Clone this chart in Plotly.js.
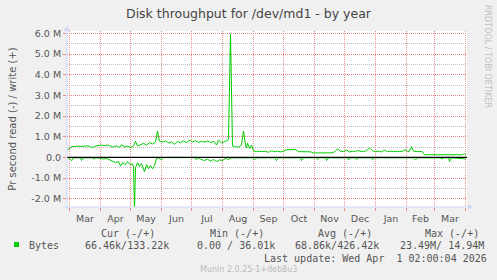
<!DOCTYPE html>
<html><head><meta charset="utf-8">
<script src="https://cdn.plot.ly/plotly-3.0.1.min.js"></script>
<style>html,body{margin:0;padding:0;background:#f0f0f0}#chart{width:497px;height:280px}</style>
</head><body><div id="chart"></div>
<script>
// ---- data (values in M bytes/s) ----
const writeDates = ["2025-02-27","2025-03-01","2025-03-03","2025-03-06","2025-03-09","2025-03-12","2025-03-15","2025-03-18","2025-03-21","2025-03-24","2025-03-27","2025-03-30","2025-04-02","2025-04-05","2025-04-08","2025-04-11","2025-04-14","2025-04-17","2025-04-20","2025-04-22","2025-04-25","2025-04-28","2025-05-01","2025-05-04","2025-05-06","2025-05-08","2025-05-11","2025-05-14","2025-05-17","2025-05-20","2025-05-23","2025-05-26","2025-05-28","2025-05-30","2025-06-02","2025-06-05","2025-06-08","2025-06-11","2025-06-14","2025-06-17","2025-06-20","2025-06-23","2025-06-26","2025-06-29","2025-07-02","2025-07-05","2025-07-08","2025-07-11","2025-07-14","2025-07-17","2025-07-20","2025-07-23","2025-07-26","2025-07-28","2025-07-31","2025-08-03","2025-08-05","2025-08-07","2025-08-09","2025-08-11","2025-08-14","2025-08-17","2025-08-20","2025-08-22","2025-08-24","2025-08-25","2025-08-26","2025-08-28","2025-08-30","2025-09-01","2025-09-04","2025-09-07","2025-09-10","2025-09-13","2025-09-16","2025-09-19","2025-09-22","2025-09-25","2025-09-28","2025-10-01","2025-10-04","2025-10-07","2025-10-10","2025-10-13","2025-10-16","2025-10-19","2025-10-22","2025-10-25","2025-10-28","2025-10-31","2025-11-06","2025-11-12","2025-11-18","2025-11-21","2025-11-24","2025-11-27","2025-11-30","2025-12-03","2025-12-06","2025-12-09","2025-12-12","2025-12-14","2025-12-17","2025-12-20","2025-12-23","2025-12-26","2025-12-29","2026-01-01","2026-01-04","2026-01-07","2026-01-10","2026-01-13","2026-01-16","2026-01-19","2026-01-22","2026-01-25","2026-01-28","2026-01-31","2026-02-02","2026-02-04","2026-02-06","2026-02-08","2026-02-12","2026-02-17","2026-02-19","2026-03-05","2026-03-20","2026-03-29","2026-03-31","2026-04-01"];
const writeM = [0.35,0.45,0.52,0.53,0.55,0.53,0.55,0.56,0.54,0.47,0.55,0.58,0.6,0.57,0.6,0.55,0.5,0.57,0.48,0.62,0.5,0.55,0.48,0.55,0.78,0.55,0.62,0.68,0.6,0.72,0.65,0.75,1.28,0.78,0.75,0.8,0.7,0.75,0.63,0.78,0.7,0.8,0.72,0.84,0.75,0.82,0.72,0.78,0.74,0.8,0.72,0.78,0.6,0.85,0.7,0.76,0.78,0.85,5.97,0.55,0.52,0.5,0.6,1.28,0.6,0.45,0.7,0.42,0.6,0.32,0.28,0.3,0.28,0.3,0.25,0.32,0.28,0.3,0.27,0.3,0.37,0.38,0.36,0.38,0.28,0.27,0.28,0.26,0.27,0.22,0.22,0.22,0.22,0.27,0.42,0.3,0.28,0.36,0.27,0.3,0.28,0.33,0.3,0.28,0.33,0.47,0.32,0.28,0.3,0.27,0.35,0.28,0.3,0.28,0.3,0.28,0.3,0.37,0.28,0.3,0.52,0.3,0.28,0.28,0.13,0.13,0.13,0.13,0.18,0.13];

const readDates = ["2025-02-27","2025-03-01","2025-03-03","2025-03-05","2025-03-12","2025-03-13","2025-03-15","2025-03-24","2025-03-25","2025-03-27","2025-04-01","2025-04-04","2025-04-07","2025-04-10","2025-04-13","2025-04-16","2025-04-19","2025-04-21","2025-04-23","2025-04-26","2025-04-28","2025-05-01","2025-05-03","2025-05-04","2025-05-05","2025-05-06","2025-05-08","2025-05-10","2025-05-12","2025-05-15","2025-05-17","2025-05-19","2025-05-21","2025-05-23","2025-05-25","2025-05-27","2025-05-29","2025-06-01","2025-06-03","2025-07-04","2025-07-06","2025-07-08","2025-07-11","2025-07-14","2025-07-17","2025-07-20","2025-07-23","2025-07-26","2025-07-29","2025-08-01","2025-08-04","2025-08-07","2025-08-10","2025-08-31","2025-09-02","2025-09-04","2025-09-22","2025-09-24","2025-09-26","2025-10-18","2025-10-19","2025-10-21","2025-11-03","2025-11-04","2025-11-06","2025-11-12","2025-11-13","2025-11-15","2025-12-04","2025-12-05","2025-12-07","2025-12-12","2025-12-13","2025-12-15","2025-12-28","2025-12-29","2025-12-31","2026-02-08","2026-02-10","2026-02-12","2026-03-07","2026-03-08","2026-03-10","2026-03-15","2026-03-16","2026-03-18","2026-04-01"];
const readM = [0.02,0.05,0.16,0.02,0.02,0.15,0.02,0.02,0.08,0.02,0.04,0.08,0.05,0.12,0.18,0.25,0.2,0.42,0.25,0.35,0.2,0.35,0.3,0.45,2.5,0.5,0.25,0.45,0.3,0.7,0.35,0.55,0.4,0.55,0.4,0.05,0.02,0.12,0.01,0.01,0.12,0.02,0.1,0.15,0.08,0.18,0.1,0.2,0.12,0.15,0.05,0.1,0.02,0.02,0.12,0.02,0.02,0.15,0.02,0.02,0.15,0.02,0.02,0.1,0.02,0.02,0.15,0.02,0.02,0.12,0.02,0.02,0.1,0.02,0.02,0.1,0.02,0.02,0.12,0.02,0.02,0.08,0.02,0.02,0.2,0.02,0.07];

const yTickVals = [-2,-1,0,1,2,3,4,5,6];
const yTickText = ["-2.0 M","-1.0 M","0.0","1.0 M","2.0 M","3.0 M","4.0 M","5.0 M","6.0 M"];
const legendHeaders = ["Cur (-/+)","Min (-/+)","Avg (-/+)","Max (-/+)"];
const legendValues = ["66.46k/133.22k","0.00 / 36.01k","68.86k/426.42k","23.49M/ 14.94M"];
const seriesName = "Bytes";
const lastUpdate = "Last update: Wed Apr\u00a0 1 02:00:04 2026";

// ---- geometry helpers (pixel -> paper) ----
const L = 67, R = 467, T = 31, B = 207;
const px = x => (x - L) / (R - L);
const py = y => (B - y) / (B - T);

const green = '#00cc00';
const traces = [
  {x: readDates, y: readM.map(v => -v), type: 'scatter', mode: 'lines', line: {color: green, width: 1}, hoverinfo: 'skip', showlegend: false},
  {x: writeDates, y: writeM, type: 'scatter', mode: 'lines', line: {color: green, width: 1}, hoverinfo: 'skip', showlegend: false}
];

const mono = {family: 'DejaVu Sans Mono', size: 10, color: '#555'};
const ann = [];
const headX = [99, 208, 316, 423];
const valX = [83, 195, 293, 398];
legendHeaders.forEach((t, i) => ann.push({text: t, x: px(headX[i]), y: py(233), xref: 'paper', yref: 'paper', xanchor: 'left', yanchor: 'middle', showarrow: false, font: mono}));
legendValues.forEach((t, i) => ann.push({text: t.replace(/ /g, '\u00a0'), x: px(valX[i]), y: py(245), xref: 'paper', yref: 'paper', xanchor: 'left', yanchor: 'middle', showarrow: false, font: mono}));
ann.push({text: seriesName, x: px(27), y: py(245), xref: 'paper', yref: 'paper', xanchor: 'left', yanchor: 'middle', showarrow: false, font: mono});
ann.push({text: lastUpdate, x: px(262), y: py(258), xref: 'paper', yref: 'paper', xanchor: 'left', yanchor: 'middle', showarrow: false, font: mono});
ann.push({text: 'Munin 2.0.25-1+deb8u3', x: px(248), y: py(269), xref: 'paper', yref: 'paper', xanchor: 'center', yanchor: 'middle', showarrow: false, font: {family: 'DejaVu Sans', size: 8, color: '#bbb'}});
ann.push({text: 'RRDTOOL / TOBI OETIKER', x: px(488), y: py(56), xref: 'paper', yref: 'paper', xanchor: 'center', yanchor: 'middle', textangle: 90, showarrow: false, font: {family: 'DejaVu Sans', size: 8, color: '#c0c0c0'}});

const axisCol = '#cfd6f8';
const shapes = [
  {type: 'line', xref: 'paper', yref: 'y', x0: 0, x1: 1, y0: 0, y1: 0, line: {color: '#000', width: 1.3}, layer: 'above'},
  {type: 'rect', xref: 'paper', yref: 'paper', x0: px(14), x1: px(19), y0: py(247), y1: py(242), fillcolor: green, line: {width: 0}},
  {type: 'line', xref: 'paper', yref: 'paper', x0: px(64), x1: px(469), y0: 0, y1: 0, line: {color: axisCol, width: 1}},
  {type: 'line', xref: 'paper', yref: 'paper', x0: 0, x1: 0, y0: py(210), y1: py(29), line: {color: axisCol, width: 1}},
  {type: 'path', xref: 'paper', yref: 'paper', path: `M ${px(468)} ${py(204)} L ${px(473)} ${py(207)} L ${px(468)} ${py(210)} Z`, fillcolor: axisCol, line: {width: 0}},
  {type: 'path', xref: 'paper', yref: 'paper', path: `M ${px(64)} ${py(31)} L ${px(67)} ${py(26)} L ${px(70)} ${py(31)} Z`, fillcolor: axisCol, line: {width: 0}}
];

const tickFont = {family: 'DejaVu Sans', size: 9.5, color: '#555'};
const layout = {
  width: 497, height: 280,
  margin: {l: L, r: 497 - R, t: T, b: 280 - B, pad: 0},
  paper_bgcolor: '#f0f0f0', plot_bgcolor: '#ffffff',
  showlegend: false,
  title: {text: 'Disk throughput for /dev/md1 - by year', font: {family: 'DejaVu Sans', size: 12.5, color: '#444'}, x: 0.5, xref: 'container', xanchor: 'center', y: 1 - 14 / 280, yref: 'container', yanchor: 'middle'},
  xaxis: {
    type: 'date', range: ['2025-02-26 12:00', '2026-04-02 12:00'],
    dtick: 'M1', tick0: '2025-03-01', tickformat: '%b', ticklabelmode: 'period',
    showgrid: true, gridcolor: 'rgba(235,120,120,0.85)', griddash: '1px,1px', gridwidth: 1,
    ticks: 'outside', ticklen: 3, tickcolor: 'rgba(235,120,120,0.85)',
    showline: false, zeroline: false, tickfont: tickFont, fixedrange: true
  },
  yaxis: {
    range: [-2.4, 6.12], tickmode: 'array', tickvals: yTickVals, ticktext: yTickText,
    showgrid: true, gridcolor: 'rgba(235,120,120,0.85)', griddash: '1px,1px', gridwidth: 1,
    minor: {dtick: 0.5, tick0: 0, showgrid: true, gridcolor: 'rgba(175,175,175,0.8)', griddash: '1px,1px', ticks: ''},
    ticks: 'outside', ticklen: 3, tickcolor: 'rgba(235,120,120,0.85)',
    zeroline: false, showline: false, tickfont: tickFont, fixedrange: true,
    title: {text: 'Pr second read (-) / write (+)', font: {family: 'DejaVu Sans', size: 10, color: '#555'}, standoff: 12}
  },
  shapes: shapes,
  annotations: ann
};
Plotly.newPlot('chart', traces, layout, {staticPlot: true, displayModeBar: false});
</script></body></html>
